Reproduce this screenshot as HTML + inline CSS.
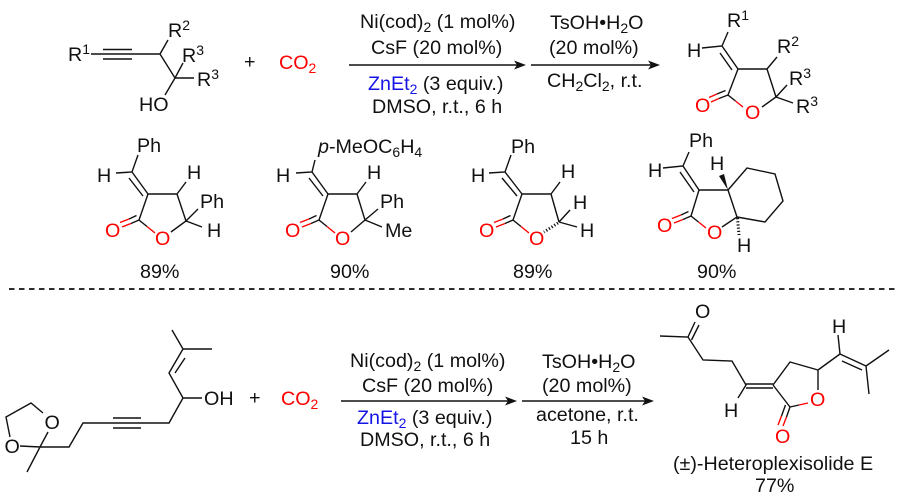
<!DOCTYPE html>
<html><head><meta charset="utf-8"><style>
html,body{margin:0;padding:0;background:#fff}
svg{display:block}
text{font-family:"Liberation Sans",sans-serif;font-size:19.7px;fill:#111}
.r{fill:#f00}.b{fill:#1414e6}
.s{font-size:14px}
path{fill:none;stroke:#111;stroke-width:1.4}
path.k{fill:#111;stroke:none}
path.red{stroke:#f00}
path.d{stroke-dasharray:5.5 4.5;stroke-width:1.7}
path.a{stroke-width:1.6}
</style></head><body>
<svg width="900" height="503" viewBox="0 0 900 503" xmlns="http://www.w3.org/2000/svg">

<!-- top substrate -->
<path d="M91 54H103M103 49.500H132M103 54H132M103 59H132M132 54H160L168 40M160 54L175 78L183 63M175 78H194M175 78L165 95"/>
<text x="68" y="61">R<tspan class="s" dy="-7">1</tspan></text>
<text x="168" y="37">R<tspan class="s" dy="-7">2</tspan></text>
<text x="182" y="62">R<tspan class="s" dy="-7">3</tspan></text>
<text x="197" y="86">R<tspan class="s" dy="-7">3</tspan></text>
<text x="139" y="111">HO</text>
<text x="244" y="68">+</text>
<text x="279" y="69" class="r">CO<tspan class="s r" dy="4">2</tspan></text>

<!-- top conditions -->
<text x="360" y="28">Ni(cod)<tspan class="s" dy="4">2</tspan><tspan dy="-4"> (1 mol%)</tspan></text>
<text x="371" y="54">CsF (20 mol%)</text>
<path class="a" d="M349 65H518M531 65H653"/>
<path class="k" d="M526 65L514 60.500L517 65L514 69.500ZM660 65L648 60.500L651 65L648 69.500Z"/>
<text x="368" y="90"><tspan class="b">ZnEt</tspan><tspan class="s b" dy="4">2</tspan><tspan dy="-4"> (3 equiv.)</tspan></text>
<text x="372" y="113">DMSO, r.t., 6 h</text>
<text x="550" y="29">TsOH•H<tspan class="s" dy="4">2</tspan><tspan dy="-4">O</tspan></text>
<text x="549" y="54">(20 mol%)</text>
<text x="547" y="87">CH<tspan class="s" dy="4">2</tspan><tspan dy="-4">Cl</tspan><tspan class="s" dy="4">2</tspan><tspan dy="-4">, r.t.</tspan></text>

<!-- top product -->
<path d="M728 32L722 46L702 48M722 46L738 69M720 53L732 70M738 69H767L776 97L762 107M738 69L728 95L735.500 101M767 69L777 57M776 97L787 85M776 97L793 103"/>
<path class="red" d="M743 107L735.500 101"/>
<path d="M728 95L719 98.500M725.500 90.500L717 94"/>
<path class="red" d="M719 98.500L711 102M717 94L709 97.500"/>
<text x="727" y="27">R<tspan class="s" dy="-7">1</tspan></text>
<text x="687" y="57">H</text>
<text x="777" y="53">R<tspan class="s" dy="-7">2</tspan></text>
<text x="789" y="85">R<tspan class="s" dy="-7">3</tspan></text>
<text x="796" y="113">R<tspan class="s" dy="-7">3</tspan></text>
<text x="745" y="119" class="r">O</text>
<text x="695" y="112" class="r">O</text>

<!-- product 1 -->
<path d="M138 155L132 172L116 173M132 172L148 194M129 178L143 196M148 194H177L186 221L171 232M148 194L139 220L147 226.500M177 194L186 182M186 221L198 209M186 221L202 227"/>
<path class="red" d="M147 226.500L155 233"/>
<path d="M139 220L131 223.500M136.500 215.500L129 219"/>
<path class="red" d="M131 223.500L122 227M129 219L120 222.500"/>
<text x="137" y="152">Ph</text><text x="97" y="182">H</text><text x="187" y="179">H</text>
<text x="200" y="208">Ph</text><text x="207" y="237">H</text>
<text x="155" y="245" class="r">O</text><text x="105" y="237" class="r">O</text>
<text x="140" y="278">89%</text>

<!-- product 2 -->
<path d="M315 160L312 172L296 173M312 172L328 194M309 178L323 196M328 194H357L365 220L351 232M328 194L319 220L327 226.500M357 194L366 182M365 220L378 209M365 220L382 227"/>
<path class="red" d="M327 226.500L335 233"/>
<path d="M319 220L311 223.500M316.500 215.500L309 219"/>
<path class="red" d="M311 223.500L302 227M309 219L300 222.500"/>
<text x="318" y="153"><tspan font-style="italic">p</tspan>-MeOC<tspan class="s" dy="4">6</tspan><tspan dy="-4">H</tspan><tspan class="s" dy="4">4</tspan></text>
<text x="276" y="182">H</text><text x="367" y="179">H</text>
<text x="380" y="208">Ph</text><text x="385" y="237">Me</text>
<text x="335" y="245" class="r">O</text><text x="285" y="237" class="r">O</text>
<text x="330" y="278">90%</text>

<!-- product 3 -->
<path d="M511 155L505 172L489 173M505 172L522 194M502 178L517 196M522 194H551L559 222M522 194L513 220L521 226.500M551 194L560 182M559 222L570 210M559 222L577 227"/>
<path class="red" d="M521 226.500L529 233"/>
<path d="M513 220L505 223.500M510.500 215.500L503 219"/>
<path class="red" d="M505 223.500L496 227M503 219L494 222.500"/>
<path style="stroke-dasharray:1.200 2;stroke-width:3" d="M558 223L544 232"/>
<text x="511" y="153">Ph</text><text x="471" y="182">H</text><text x="561" y="178">H</text>
<text x="573" y="209">H</text><text x="580" y="237">H</text>
<text x="529" y="245" class="r">O</text><text x="479" y="237" class="r">O</text>
<text x="513" y="278">89%</text>

<!-- product 4 -->
<path d="M689 152L683 166L663 168M683 166L699 190M680 172L694 192M699 190H728L737 217L722 227M699 190L691 216L698.500 222M728 190L747 168L775 174L783 201L765 222L737 217"/>
<path class="red" d="M698.500 222L706 228"/>
<path d="M691 216L683 219.500M688.500 211.500L681 215"/>
<path class="red" d="M683 219.500L674 223M681 215L672 218.500"/>
<path class="k" d="M728 190L719 176L724 174Z"/>
<path style="stroke-dasharray:1.200 2;stroke-width:3" d="M737.500 218L739 235"/>
<text x="689" y="147">Ph</text><text x="648" y="177">H</text><text x="710" y="170">H</text><text x="737" y="252">H</text>
<text x="707" y="239" class="r">O</text><text x="657" y="232" class="r">O</text>
<text x="697" y="278">90%</text>

<!-- divider -->
<path class="d" d="M9 289H897"/>

<!-- bottom substrate -->
<path d="M43 413L31 403L6 417L10 437M20 446L40 447L48 432M40 447L27 472M40 447H69L83 423H113M113 418H141M113 423H141M113 428H141M141 423H169L183 398H202M183 398L169 373L183 349H212M175 373L185 358M183 349L172 330"/>
<text x="204" y="405">OH</text>
<text x="44.500" y="429">O</text>
<text x="4.500" y="453">O</text>
<text x="249" y="404">+</text>
<text x="281" y="405" class="r">CO<tspan class="s r" dy="4">2</tspan></text>

<!-- bottom conditions -->
<text x="350" y="367">Ni(cod)<tspan class="s" dy="4">2</tspan><tspan dy="-4"> (1 mol%)</tspan></text>
<text x="362" y="392">CsF (20 mol%)</text>
<path class="a" d="M341 401H510M522 401H647"/>
<path class="k" d="M517 401L505 396.500L508 401L505 405.500ZM654 401L642 396.500L645 401L642 405.500Z"/>
<text x="357" y="424"><tspan class="b">ZnEt</tspan><tspan class="s b" dy="4">2</tspan><tspan dy="-4"> (3 equiv.)</tspan></text>
<text x="360" y="446">DMSO, r.t., 6 h</text>
<text x="542" y="368">TsOH•H<tspan class="s" dy="4">2</tspan><tspan dy="-4">O</tspan></text>
<text x="542" y="392">(20 mol%)</text>
<text x="536" y="421">acetone, r.t.</text>
<text x="570" y="444">15 h</text>

<!-- bottom product -->
<path d="M660 336L688 337L703 360L732 361L746 385L738 398M746 384H773M746 388H773M773 385L790 362L818 370V390M773 385L790 407M818 370L840 354L838 335M840 354L866 366M842 361L862 370M866 366L889 350M866 366L869 394"/>
<path d="M688 337L695 322M691.500 340L699 325"/>
<path d="M790 407L799 405M790 407L786.500 417M785.500 405L781.500 416"/>
<path class="red" d="M799 405L808 403M786.500 417L783 426M781.500 416L778 425"/>
<text x="695" y="318">O</text>
<text x="724" y="417">H</text>
<text x="832" y="333">H</text>
<text x="810" y="406" class="r">O</text>
<text x="775" y="443" class="r">O</text>
<text x="673" y="470">(±)-Heteroplexisolide E</text>
<text x="755" y="492">77%</text>
</svg>
</body></html>
